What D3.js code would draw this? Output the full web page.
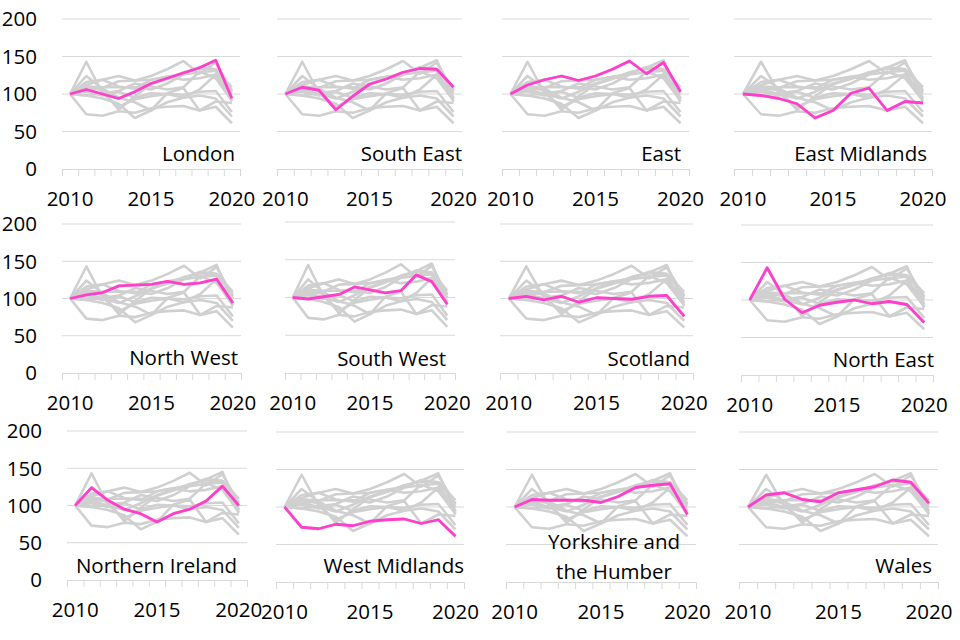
<!DOCTYPE html>
<html lang="en">
<head>
<meta charset="UTF-8">
<title>regions small multiples</title>
<script src="https://d3js.org/d3.v7.min.js"></script>
<style>
    body{ margin:0; background:#fff; }
    text{ font-family:"Open Sans", sans-serif; font-size:20.5px; fill:#000; }
    .grid{ stroke:#d9d9d9; stroke-width:1; }
    .axis path, .axis line{ stroke:#d9d9d9; stroke-width:1; }
    .other{ fill:none; stroke:#d0d0d0; stroke-width:2.6; stroke-linejoin:round; }
    .focus{ fill:none; stroke:#ff3fcc; stroke-width:2.8; stroke-linejoin:round; }
</style>
</head>
<body>
<svg id="chart" width="960" height="640"></svg>
<script>
    // data, index 2010 = 100
    let years = [2010, 2011, 2012, 2013, 2014, 2015, 2016, 2017, 2018, 2019, 2020]
    let yearLabels = [2010, 2015, 2020]
    let yTicks = [0, 50, 100, 150, 200]
    let regions = ["London", "South East", "East", "East Midlands",
        "North West", "South West", "Scotland", "North East",
        "Northern Ireland", "West Midlands", "Yorkshire and the Humber", "Wales"]

    let london = [100, 106, 100, 94, 103, 114, 121, 128, 135, 145, 94]
    let southEast = [100, 109, 105, 79, 97, 113, 120, 129, 134, 133, 109]
    let east = [100, 112, 119, 124, 118, 124, 133, 144, 127, 142, 103]
    let eastMidlands = [100, 98, 94, 87, 68, 78, 101, 108, 78, 90, 88]
    let northWest = [100, 105, 108, 117, 118, 119, 123, 119, 121, 126, 94]
    let southWest = [100, 98, 101, 104, 114, 110, 106, 109, 130, 121, 91]
    let scotland = [100, 103, 98, 103, 95, 101, 100, 99, 103, 104, 76]
    let northEast = [100, 143, 101, 83, 93, 97, 100, 95, 98, 94, 70]
    let northernIreland = [100, 124, 107, 95, 89, 78, 89, 95, 106, 126, 100]
    let westMidlands = [100, 73, 71, 77, 75, 81, 83, 84, 78, 83, 61]
    let yorkshire = [100, 110, 109, 109, 109, 106, 114, 126, 129, 131, 90]
    let wales = [100, 116, 119, 110, 107, 119, 123, 127, 136, 133, 105]

    let series = [london, southEast, east, eastMidlands, northWest, southWest,
        scotland, northEast, northernIreland, westMidlands, yorkshire, wales]

    // where each little chart sits (pixels) and where its name goes
    let panels = [
        {x0: 62, x1: 240, y0: 19, y1: 169, lx: 235, ly: 161, anchor: "end"},
        {x0: 277, x1: 462, y0: 19, y1: 169, lx: 462, ly: 161, anchor: "end"},
        {x0: 502, x1: 689, y0: 19, y1: 169, lx: 681, ly: 161, anchor: "end"},
        {x0: 734, x1: 932, y0: 19, y1: 169, lx: 927, ly: 161, anchor: "end"},
        {x0: 62, x1: 241, y0: 224, y1: 373, lx: 238, ly: 365, anchor: "end"},
        {x0: 285, x1: 455, y0: 222, y1: 373, lx: 446, ly: 366, anchor: "end"},
        {x0: 500, x1: 693, y0: 224, y1: 373, lx: 690, ly: 366, anchor: "end"},
        {x0: 741, x1: 933, y0: 225, y1: 375, lx: 934, ly: 367, anchor: "end"},
        {x0: 67, x1: 247, y0: 431, y1: 580, lx: 237, ly: 573, anchor: "end"},
        {x0: 276, x1: 464, y0: 432, y1: 582, lx: 464, ly: 573, anchor: "end"},
        {x0: 506, x1: 696, y0: 432, y1: 582, lx: 614, ly: 549, anchor: "middle", lines: ["Yorkshire and", "the Humber"]},
        {x0: 739, x1: 938, y0: 432, y1: 582, lx: 932, ly: 573, anchor: "end"}
    ]

    let svg = d3.select("#chart")

    panels.forEach(function (p, i) {
        let g = svg.append("g")

        let x = d3.scaleLinear().domain([2009.5, 2020.5]).range([p.x0, p.x1])
        let y = d3.scaleLinear().domain([0, 200]).range([p.y1, p.y0])

        // gridlines
        g.selectAll(".grid")
            .data(yTicks.filter(d => d > 0))
            .enter()
            .append("line")
            .attr("class", "grid")
            .attr("x1", p.x0).attr("x2", p.x1)
            .attr("y1", d => y(d)).attr("y2", d => y(d))

        // category axis with ticks between the years
        g.append("g")
            .attr("class", "axis")
            .attr("transform", "translate(0," + p.y1 + ")")
            .call(d3.axisBottom(x)
                .tickValues(d3.range(years.length + 1).map(k => 2009.5 + k))
                .tickFormat("")
                .tickSize(7)
                .tickSizeOuter(0))

        g.selectAll(".xlab")
            .data(yearLabels)
            .enter()
            .append("text")
            .attr("x", d => x(d))
            .attr("y", p.y1 + 37)
            .attr("text-anchor", "middle")
            .text(d => d)

        // y labels only on the left column
        if (i % 4 === 0) {
            g.selectAll(".ylab")
                .data(yTicks)
                .enter()
                .append("text")
                .attr("x", p.x0 - 25)
                .attr("y", d => y(d))
                .attr("dy", "0.36em")
                .attr("text-anchor", "end")
                .text(d => d)
        }

        let line = d3.line()
            .x((d, k) => x(years[k]))
            .y(d => y(d))

        g.selectAll(".other")
            .data(series)
            .enter()
            .append("path")
            .attr("class", "other")
            .attr("d", line)

        g.append("path")
            .attr("class", "focus")
            .attr("d", line(series[i]))

        let lines = p.lines || [regions[i]]
        g.selectAll(".name")
            .data(lines)
            .enter()
            .append("text")
            .attr("x", p.lx)
            .attr("y", (d, k) => p.ly + k * 30)
            .attr("text-anchor", p.anchor)
            .text(d => d)
    })
</script>
</body>
</html>
